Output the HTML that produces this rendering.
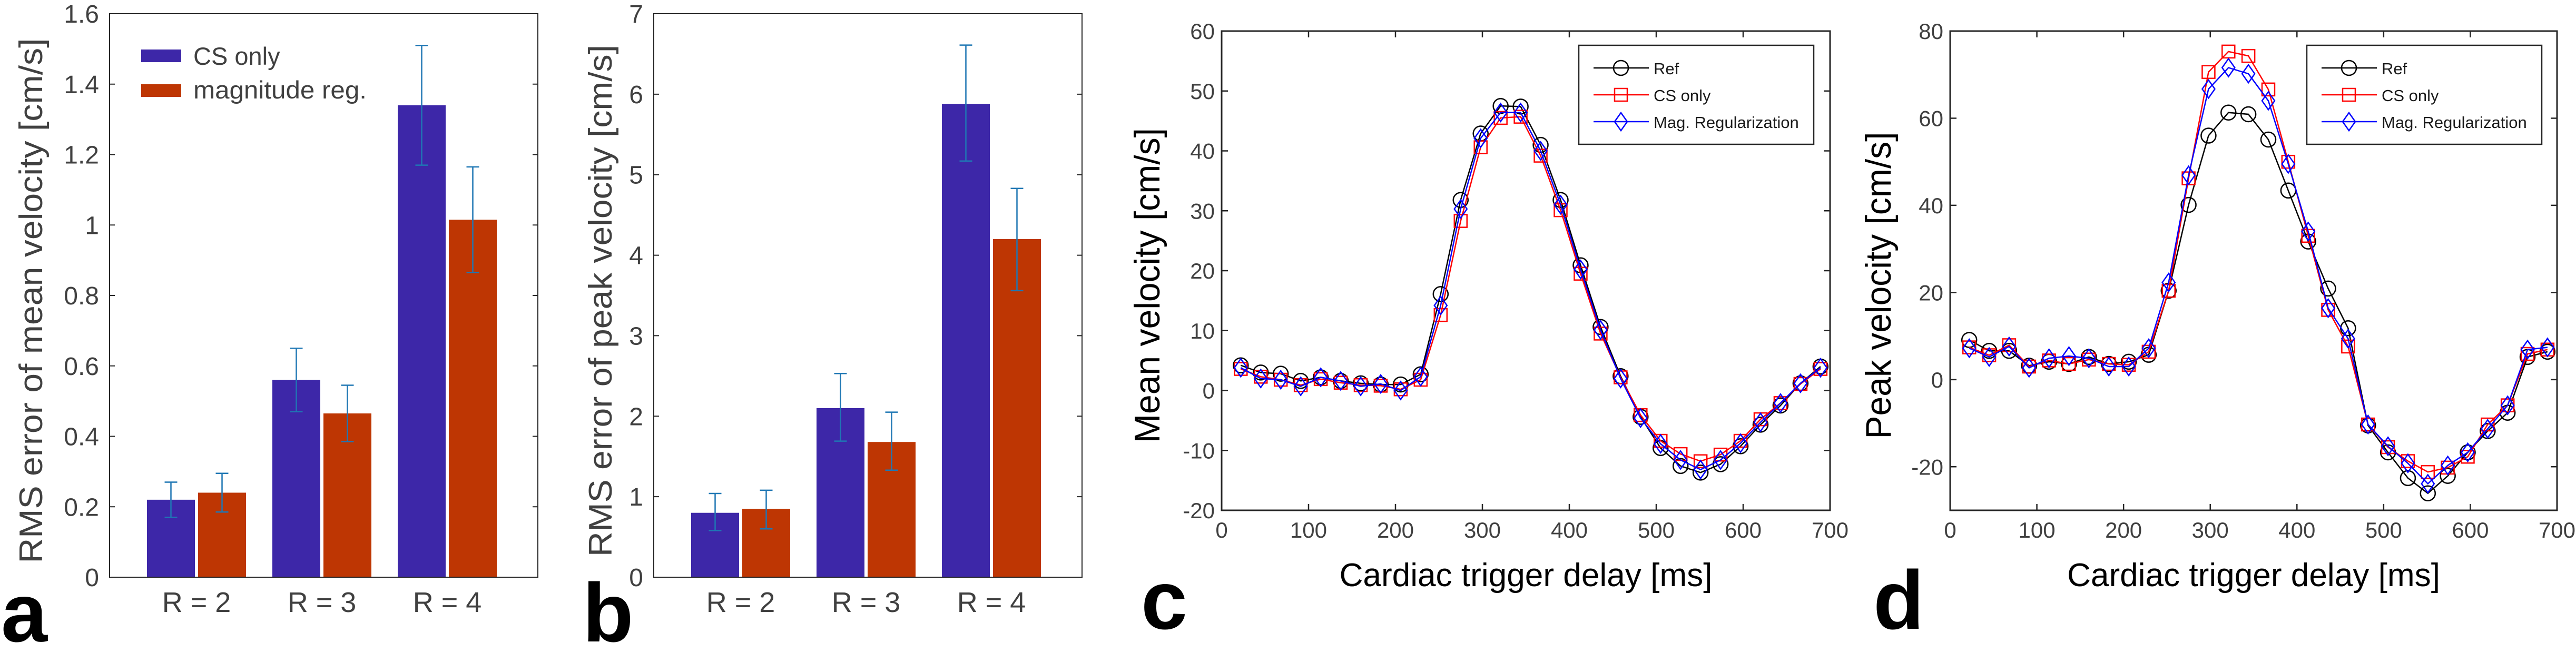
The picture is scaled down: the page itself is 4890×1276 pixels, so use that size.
<!DOCTYPE html>
<html><head><meta charset="utf-8"><style>
html,body{margin:0;padding:0;background:#fff;}
svg{display:block;font-family:"Liberation Sans",Arial,sans-serif;}
</style></head><body>
<svg id="fig" width="4890" height="1276" viewBox="0 0 4890 1276" xmlns="http://www.w3.org/2000/svg"></svg>
<script>
// ---- bar chart data (panels a, b) ----
const groups = ["R = 2", "R = 3", "R = 4"];
const meanCS = [0.22, 0.56, 1.34];
const meanCSLo = [0.17, 0.47, 1.17];
const meanCSHi = [0.27, 0.65, 1.51];
const meanMag = [0.24, 0.465, 1.015];
const meanMagLo = [0.185, 0.385, 0.865];
const meanMagHi = [0.295, 0.545, 1.165];
const meanTicks = ["0", "0.2", "0.4", "0.6", "0.8", "1", "1.2", "1.4", "1.6"];
const meanTickVals = [0, 0.2, 0.4, 0.6, 0.8, 1, 1.2, 1.4, 1.6];
const peakCS = [0.80, 2.10, 5.88];
const peakCSLo = [0.58, 1.69, 5.17];
const peakCSHi = [1.04, 2.53, 6.61];
const peakMag = [0.85, 1.68, 4.20];
const peakMagLo = [0.60, 1.33, 3.56];
const peakMagHi = [1.08, 2.05, 4.83];
const peakTickVals = [0, 1, 2, 3, 4, 5, 6, 7];
// ---- line chart data (panels c, d) ----
const delays = [22,45,68,91,114,137,160,183,206,229,252,275,298,321,344,367,390,413,436,459,482,505,528,551,574,597,620,643,666,689];
const meanRef = [4.2,3.0,2.8,1.6,2.2,1.6,1.2,1.0,1.0,2.7,16.1,31.8,42.9,47.5,47.4,41.0,31.8,20.9,10.6,2.4,-4.4,-9.6,-12.6,-13.7,-12.3,-9.3,-5.7,-2.5,1.2,4.0];
const meanCSOnly = [3.6,2.3,1.8,0.9,1.9,1.3,0.9,0.8,0.2,1.8,12.6,28.3,40.6,45.5,45.7,39.2,30.1,19.5,9.5,2.2,-4.1,-8.4,-10.6,-11.8,-10.7,-8.4,-4.8,-2.1,1.1,3.6];
const meanMagReg = [3.8,2.0,1.8,0.7,2.2,1.6,0.7,1.1,0.0,2.3,14.2,30.3,42.1,46.4,46.4,40.0,31.0,20.2,10.1,2.0,-4.6,-8.9,-11.6,-13.2,-11.6,-8.8,-5.3,-2.1,1.2,3.8];
const peakRef = [9.1,6.6,6.6,3.2,4.1,3.6,5.2,3.6,4.1,5.7,20.4,40.1,56.0,61.3,60.9,55.1,43.4,31.7,20.9,11.8,-10.5,-16.7,-22.6,-26.1,-22.1,-16.7,-11.8,-7.6,5.2,6.4];
const peakCSOnly = [7.4,5.6,7.9,3.0,4.4,3.6,4.6,3.6,3.4,6.4,20.4,46.2,70.6,75.3,74.3,66.6,50.0,33.0,16.0,7.6,-10.3,-15.5,-18.7,-21.2,-20.2,-17.7,-10.3,-5.9,5.9,6.9];
const peakMagReg = [7.2,5.2,7.6,2.7,4.9,5.4,4.9,3.0,3.0,7.2,22.3,46.9,66.7,71.6,70.2,64.0,49.5,34.0,16.4,9.4,-10.3,-15.3,-19.2,-23.9,-19.7,-16.7,-11.3,-5.9,6.9,7.4];
const xTickVals = [0,100,200,300,400,500,600,700];
const meanYTicks = [-20,-10,0,10,20,30,40,50,60];
const peakYTicks = [-20,0,20,40,60,80];

const NS = "http://www.w3.org/2000/svg";
const svg = document.getElementById("fig");
function mk(tag, attrs, parent) {
  const e = document.createElementNS(NS, tag);
  for (const k in attrs) e.setAttribute(k, attrs[k]);
  (parent || svg).appendChild(e);
  return e;
}
function txt(s, attrs, parent) { const t = mk("text", attrs, parent); t.textContent = s; return t; }

function barPanel(name, L, R, T, B, ymax, csV, csLo, csHi, mgV, mgLo, mgHi, tickVals, tickLabels, ylabel, ylabelX, ylabelLen, letter, letterX, legend) {
  const g = mk("g", {});
  
  
  const y = v => B - (v / ymax) * (B - T);
  const step = 238, c0 = L + 165;
  const xc = i => c0 + i * step;
  const bw = 91;
  const blue = "#3d27a8", red = "#be3603", eb = "#1f77b4";
  for (let i = 0; i < groups.length; i++) {
    const r1 = mk("rect", {x: xc(i) - 94, y: y(csV[i]), width: bw, height: B - y(csV[i]), fill: blue}, g);
    
    
    const r2 = mk("rect", {x: xc(i) + 3, y: y(mgV[i]), width: bw, height: B - y(mgV[i]), fill: red}, g);
    
    
    [[xc(i) - 48.5, csLo[i], csHi[i]], [xc(i) + 48.5, mgLo[i], mgHi[i]]].forEach(([x, lo, hi]) => {
      const e = mk("path", {d: `M${x},${y(lo)}V${y(hi)}M${x-12},${y(lo)}H${x+12}M${x-12},${y(hi)}H${x+12}`, stroke: eb, "stroke-width": 2.5, fill: "none"}, g);
      
      
    });
    const cl = txt(groups[i], {x: xc(i), y: 1162, "font-size": 54, fill: "#404040", "text-anchor": "middle"}, g);
    
    
  }
  for (let k = 0; k < tickVals.length; k++) {
    const yy = y(tickVals[k]);
    mk("path", {d: `M${L},${yy}h10M${R},${yy}h-10`, stroke: "#262626", "stroke-width": 2}, g);
    const tl = txt(tickLabels[k], {x: L - 20, y: yy + 17, "font-size": 48, fill: "#404040", "text-anchor": "end"}, g);
    
    
  }
  const box = mk("rect", {x: L, y: T, width: R - L, height: B - T, fill: "none", stroke: "#262626", "stroke-width": 2}, g);
  
  
  const yl = txt(ylabel, {x: 0, y: 0, "font-size": 62, fill: "#404040", "text-anchor": "middle", textLength: ylabelLen, lengthAdjust: "spacingAndGlyphs", transform: `translate(${ylabelX},${(T + B) / 2 + 10}) rotate(-90)`}, g);
  
  
  const lt = txt(letter, {x: letterX, y: 1218, "font-size": 158, "font-weight": "bold", fill: "#000"}, g);
  
  
  if (legend) {
    const lg = mk("g", {}, g);
    
    
    mk("rect", {x: 268, y: 94, width: 76, height: 24, fill: blue}, lg);
    mk("rect", {x: 268, y: 160, width: 76, height: 24, fill: red}, lg);
    const t1 = txt("CS only", {x: 367, y: 123, "font-size": 47, fill: "#404040"}, lg);
    
    
    const t2 = txt("magnitude reg.", {x: 367, y: 187, "font-size": 47, fill: "#404040", textLength: 329, lengthAdjust: "spacingAndGlyphs"}, lg);
    
    
  }
}

function marker(type, cx, cy, color, parent) {
  let e;
  if (type === "o") e = mk("circle", {cx: cx, cy: cy, r: 14, fill: "none", stroke: color, "stroke-width": 2.5}, parent);
  else if (type === "s") e = mk("rect", {x: cx - 12, y: cy - 12, width: 24, height: 24, fill: "none", stroke: color, "stroke-width": 2.5}, parent);
  else e = mk("path", {d: `M${cx},${cy-17}L${cx+12},${cy}L${cx},${cy+17}L${cx-12},${cy}Z`, fill: "none", stroke: color, "stroke-width": 2.5}, parent);
  return e;
}

function linePanel(name, L, R, T, B, ymin, ymax, yTicks, series, ylabel, ylabelX, ylabelLen, letter, letterX, legX) {
  const g = mk("g", {});
  
  
  const x = v => L + (v / 700) * (R - L);
  const y = v => B - (v - ymin) / (ymax - ymin) * (B - T);
  for (const v of xTickVals) {
    mk("path", {d: `M${x(v)},${B}v-12M${x(v)},${T}v12`, stroke: "#262626", "stroke-width": 2.5}, g);
    const tl = txt(String(v), {x: x(v), y: 1021, "font-size": 42, fill: "#404040", "text-anchor": "middle"}, g);
    
    
  }
  for (const v of yTicks) {
    mk("path", {d: `M${L},${y(v)}h12M${R},${y(v)}h-12`, stroke: "#262626", "stroke-width": 2.5}, g);
    const tl = txt(String(v), {x: L - 13, y: y(v) + 15, "font-size": 42, fill: "#404040", "text-anchor": "end"}, g);
    
    
  }
  for (const s of series) {
    const sg = mk("g", {}, g);
    
    
    const pts = delays.map((d, i) => `${x(d)},${y(s.vals[i])}`).join(" ");
    mk("polyline", {points: pts, fill: "none", stroke: s.color, "stroke-width": 2.5}, sg);
    delays.forEach((d, i) => {
      const m = marker(s.m, x(d), y(s.vals[i]), s.color, sg);
      
      
    });
  }
  const box = mk("rect", {x: L, y: T, width: R - L, height: B - T, fill: "none", stroke: "#262626", "stroke-width": 3}, g);
  
  
  // legend
  const lg = mk("g", {}, g);
  
  
  mk("rect", {x: legX, y: 86, width: 446, height: 188, fill: "#fff", stroke: "#262626", "stroke-width": 2.5}, lg);
  const labels = ["Ref", "CS only", "Mag. Regularization"];
  series.forEach((s, i) => {
    const ry = 129 + i * 51;
    mk("line", {x1: legX + 28, y1: ry, x2: legX + 133, y2: ry, stroke: s.color, "stroke-width": 2.5}, lg);
    marker(s.m, legX + 80, ry, s.color, lg);
    const t = txt(labels[i], {x: legX + 142, y: ry + 12, "font-size": 31, fill: "#1a1a1a"}, lg);
    
    
  });
  const xl = txt("Cardiac trigger delay [ms]", {x: (L + R) / 2, y: 1113, "font-size": 62, fill: "#000", "text-anchor": "middle", textLength: 708, lengthAdjust: "spacingAndGlyphs"}, g);
  
  
  const yl = txt(ylabel, {x: 0, y: 0, "font-size": 68, fill: "#000", "text-anchor": "middle", textLength: ylabelLen, lengthAdjust: "spacingAndGlyphs", transform: `translate(${ylabelX},${(T + B) / 2 + 28}) rotate(-90)`}, g);
  
  
  const lt = txt(letter, {x: letterX, y: 1194, "font-size": 158, "font-weight": "bold", fill: "#000"}, g);
  
  
}

barPanel("panel-a-mean-rms", 208, 1021, 26, 1096, 1.6, meanCS, meanCSLo, meanCSHi, meanMag, meanMagLo, meanMagHi, meanTickVals, meanTicks, "RMS error of mean velocity [cm/s]", 80, 997, "a", 2, true);
barPanel("panel-b-peak-rms", 1241, 2054, 26, 1096, 7, peakCS, peakCSLo, peakCSHi, peakMag, peakMagLo, peakMagHi, peakTickVals, peakTickVals.map(String), "RMS error of peak velocity [cm/s]", 1161, 972, "b", 1106, false);
linePanel("panel-c-mean-velocity", 2319, 3474, 59, 969, -20, 60, meanYTicks, [
  {key: "ref", vals: meanRef, color: "#000000", m: "o"},
  {key: "cs-only", vals: meanCSOnly, color: "#ff0000", m: "s"},
  {key: "mag-reg", vals: meanMagReg, color: "#0000ff", m: "d"}
], "Mean velocity [cm/s]", 2201, 598, "c", 2166, 2997);
linePanel("panel-d-peak-velocity", 3702, 4854, 59, 969, -30, 80, peakYTicks, [
  {key: "ref", vals: peakRef, color: "#000000", m: "o"},
  {key: "cs-only", vals: peakCSOnly, color: "#ff0000", m: "s"},
  {key: "mag-reg", vals: peakMagReg, color: "#0000ff", m: "d"}
], "Peak velocity [cm/s]", 3589, 583, "d", 3556, 4379);
</script>
</body></html>
